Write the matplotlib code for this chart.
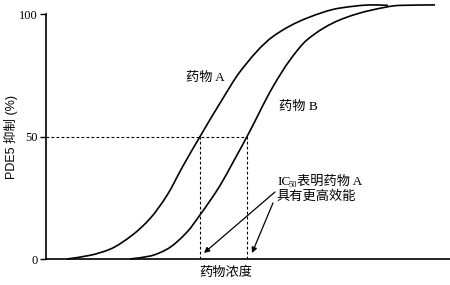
import matplotlib
matplotlib.use("Agg")
import matplotlib.pyplot as plt
from matplotlib.path import Path
from matplotlib.patches import PathPatch

# ---- data (x in arbitrary concentration units, y in % inhibition) ----
drug_a_x = [67, 90, 110, 133, 150, 167, 183, 200, 222, 240, 273, 307, 340, 373, 388]
drug_a_y = [0, 1.5, 4, 10, 16.5, 26, 38, 50, 65, 76.5, 90.9, 98.4, 102.5, 103.8, 103.6]
drug_b_x = [130, 150, 167, 187, 200, 220, 233, 247, 273, 290, 307, 340, 373, 400, 435]
drug_b_y = [0, 1.2, 4, 11, 18, 30, 39.5, 50, 70.4, 81.3, 89.5, 97.7, 101.8, 103.6, 103.8]
ic50_a = 200
ic50_b = 247
yticks = [0, 50, 100]

SERIF_CJK = ['Liberation Serif', 'Noto Sans CJK SC']
SANS_CJK = ['Liberation Sans', 'Noto Sans CJK SC']


def smooth_curve(ax, xs, ys, **kw):
    """Draw a smooth Bezier path through the given points (monotone tangents)."""
    n = len(xs)
    d = [(ys[i + 1] - ys[i]) / (xs[i + 1] - xs[i]) for i in range(n - 1)]
    m = [0.0] * n
    m[0] = d[0]
    m[-1] = d[-1]
    for i in range(1, n - 1):
        if d[i - 1] * d[i] <= 0:
            m[i] = 0.0
        else:
            h0 = xs[i] - xs[i - 1]
            h1 = xs[i + 1] - xs[i]
            w1 = 2 * h1 + h0
            w2 = h1 + 2 * h0
            m[i] = (w1 + w2) / (w1 / d[i - 1] + w2 / d[i])
    verts = [(xs[0], ys[0])]
    codes = [Path.MOVETO]
    for i in range(n - 1):
        h = xs[i + 1] - xs[i]
        verts += [(xs[i] + h / 3, ys[i] + m[i] * h / 3),
                  (xs[i + 1] - h / 3, ys[i + 1] - m[i + 1] * h / 3),
                  (xs[i + 1], ys[i + 1])]
        codes += [Path.CURVE4] * 3
    patch = PathPatch(Path(verts, codes), fill=False, clip_on=False, **kw)
    ax.add_patch(patch)


fig = plt.figure(figsize=(4.5, 2.85), dpi=100)
ax = fig.add_axes([46 / 450, 26 / 285, 1 - 46 / 450, 259 / 285])

smooth_curve(ax, drug_a_x, drug_a_y, edgecolor='black', lw=1.2)
smooth_curve(ax, drug_b_x, drug_b_y, edgecolor='black', lw=1.2)

dash = dict(color='black', lw=0.8, ls=(0, (2.5, 2)))
ax.plot([46, ic50_b], [50, 50], **dash)
ax.plot([ic50_a, ic50_a], [0, 50], **dash)
ax.plot([ic50_b, ic50_b], [0, 50], **dash)

ax.set_xlim(46, 450)
ax.set_ylim(0, 105.8)
ax.spines['top'].set_visible(False)
ax.spines['right'].set_visible(False)
ax.spines['left'].set_bounds(0, 100)
for s in ('left', 'bottom'):
    ax.spines[s].set_linewidth(1.2)
ax.set_xticks([])
ax.set_yticks(yticks)
ax.set_yticklabels([str(v) for v in yticks], family=SERIF_CJK, fontsize=9)
ax.tick_params(axis='y', length=4, width=1.0, pad=2)


def py(p):
    return (259 - p) / 2.447


ax.text(205, py(78), '药物 A', family=SERIF_CJK, fontsize=9.5, ha='center', va='center')
ax.text(298, py(107), '药物 B', family=SERIF_CJK, fontsize=9.5, ha='center', va='center')

ax.text(277, py(182), 'IC', family=SERIF_CJK, fontsize=9.5, ha='left', va='center')
ax.text(289, py(185), '50', family=SERIF_CJK, fontsize=6, ha='left', va='center')
ax.text(297, py(182), '表明药物 A', family=SERIF_CJK, fontsize=9.5, ha='left', va='center')
ax.text(277, py(197), '具有更高效能', family=SERIF_CJK, fontsize=9.5, ha='left', va='center')

arrow = dict(arrowstyle='-|>', color='black', lw=0.9, mutation_scale=8,
             shrinkA=0, shrinkB=0)
ax.annotate('', xy=(204, py(253)), xytext=(275, py(192)), arrowprops=arrow)
ax.annotate('', xy=(252, py(253)), xytext=(273, py(203)), arrowprops=arrow)

fig.text(226 / 450, 1 - 273 / 285, '药物浓度', family=SERIF_CJK, fontsize=9.5,
         ha='center', va='center')
fig.text(11 / 450, 1 - 137 / 285, 'PDE5 抑制 (%)', family=SANS_CJK, fontsize=9,
         ha='center', va='center', rotation=90)

fig.savefig('out.png', dpi=100)
